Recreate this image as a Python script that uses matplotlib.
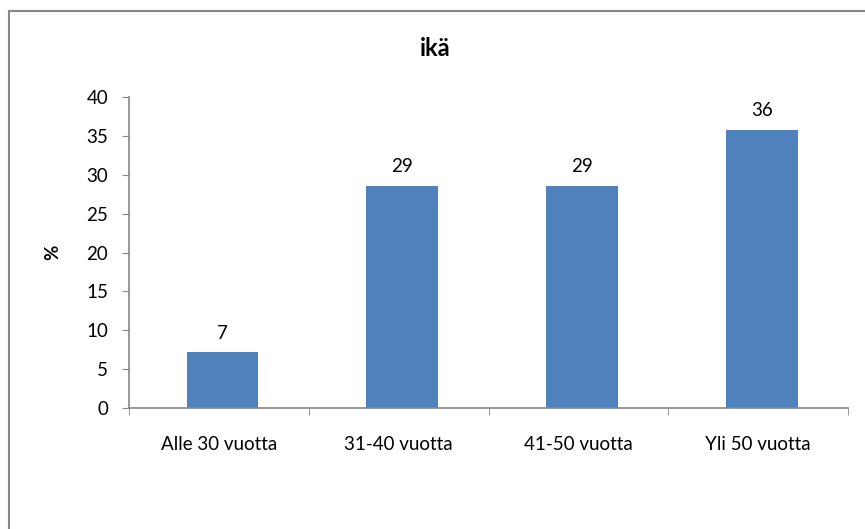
import numpy as np
import matplotlib.pyplot as plt
from matplotlib.patches import Rectangle

# Données
categories = ['Alle 30 vuotta', '31-40 vuotta', '41-50 vuotta', 'Yli 50 vuotta']
values = [7.14, 28.57, 28.57, 35.71]
labels = ['7', '29', '29', '36']

plt.rcParams['font.family'] = ['Lato', 'DejaVu Sans']
grey = '#868686'
fs = 13.5

fig = plt.figure(figsize=(8.65, 5.29), dpi=100)
ax = fig.add_axes([129/865, 1-408/529, 719/865, 311/529])

x = np.arange(len(categories))
ax.bar(x + 0.02, values, width=0.4, color='#4f81bd')
for xi, v, lab in zip(x, values, labels):
    ax.text(xi + 0.02, v + 1.4, lab, ha='center', va='bottom', fontsize=fs)

ax.set_xlim(-0.5, len(categories) - 0.5)
ax.set_ylim(0, 40)
ax.set_yticks(np.arange(0, 41, 5))
ax.set_xticks(x)
ax.set_xticklabels(categories, fontsize=fs)
ax.set_xticks(np.arange(-0.5, len(categories), 1), minor=True)
ax.tick_params(axis='x', which='major', length=0, pad=20)
ax.tick_params(axis='x', which='minor', length=5, color=grey, direction='out')
ax.tick_params(axis='y', length=5, color=grey, labelsize=fs, pad=10)

for s in ['top', 'right']:
    ax.spines[s].set_visible(False)
for s in ['left', 'bottom']:
    ax.spines[s].set_color(grey)
    ax.spines[s].set_linewidth(1.2)

ax.set_ylabel('%', fontsize=fs, fontweight='bold', labelpad=18)
fig.text(435/865, 1-48/529, 'ikä', ha='center', va='center', fontsize=17, fontweight='bold')

# cadre du graphique
fig.patches.append(Rectangle((9/865, -0.1), 1.1, 1-11/529+0.1, transform=fig.transFigure,
                             fill=False, edgecolor=grey, linewidth=1.5))

plt.savefig('out.png', dpi=100)
